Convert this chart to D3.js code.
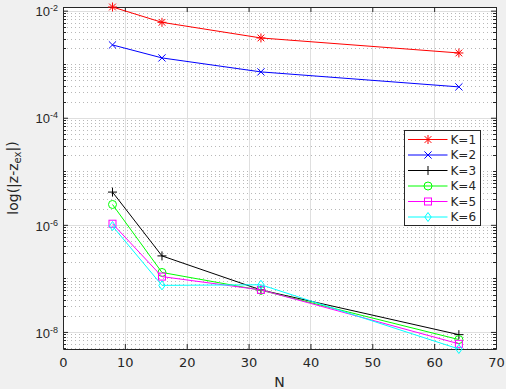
<!DOCTYPE html>
<html lang="en">
<head>
<meta charset="UTF-8">
<title>Error vs N</title>
<script src="https://cdnjs.cloudflare.com/ajax/libs/d3/7.8.5/d3.min.js"></script>
<style>
  body { margin: 0; background: #f0f0f0; }
  svg { display: block; font-family: "DejaVu Sans", sans-serif; }
</style>
</head>
<body>
<div id="chart"></div>
<script>
const N = [8, 16, 32, 64];
const labels = ["K=1", "K=2", "K=3", "K=4", "K=5", "K=6"];
const k1 = [1.17e-2, 6.05e-3, 3.09e-3, 1.62e-3];
const k2 = [2.29e-3, 1.31e-3, 7.18e-4, 3.77e-4];
const k3 = [4.09e-6, 2.63e-7, 6.08e-8, 8.9e-9];
const k4 = [2.4e-6, 1.29e-7, 6.0e-8, 7.2e-9];
const k5 = [1.05e-6, 1.08e-7, 6.1e-8, 6.0e-9];
const k6 = [9.5e-7, 7.4e-8, 7.6e-8, 4.8e-9];
const series = [k1, k2, k3, k4, k5, k6];
const colors = ["#ff0000", "#0000ff", "#000000", "#00ff00", "#ff00ff", "#00ffff"];
const markers = ["star", "x", "plus", "circle", "square", "diamond"];
const xTicks = [0, 10, 20, 30, 40, 50, 60, 70];
const yTicksExp = [-8, -6, -4, -2];

const W = 506, H = 389;
const m = { left: 63, top: 7, right: 10, bottom: 40 };
const pw = W - m.left - m.right, ph = H - m.top - m.bottom;

const svg = d3.select("#chart").append("svg").attr("width", W).attr("height", H);
svg.append("rect").attr("width", W).attr("height", H).attr("fill", "#f0f0f0");
const g = svg.append("g").attr("transform", `translate(${m.left},${m.top})`);

const x = d3.scaleLinear().domain([0, 70]).range([0, pw]);
const allY = series.flat();
const y = d3.scaleLog().domain([d3.min(allY), d3.max(allY)]).range([ph, 0]);

g.append("rect").attr("width", pw).attr("height", ph).attr("fill", "#fff");

// minor y values
const minorY = [];
for (let e = -9; e <= -1; e++) {
  for (let k = 1; k <= 9; k++) {
    const v = k * Math.pow(10, e);
    if (v >= y.domain()[0] && v <= y.domain()[1] && !(k === 1 && e % 2 === 0)) minorY.push(v);
  }
}
const majorY = yTicksExp.map(e => Math.pow(10, e));

// minor grid (dotted)
g.append("g").selectAll("line").data(minorY).join("line")
  .attr("x1", 0).attr("x2", pw)
  .attr("y1", d => Math.round(y(d)) + 0.5).attr("y2", d => Math.round(y(d)) + 0.5)
  .attr("stroke", "#b8b8b8").attr("stroke-dasharray", "1,3");

// major grid
g.append("g").selectAll("line").data(xTicks.slice(1, -1)).join("line")
  .attr("x1", d => Math.round(x(d)) + 0.5).attr("x2", d => Math.round(x(d)) + 0.5)
  .attr("y1", 0).attr("y2", ph).attr("stroke", "#dfdfdf");
g.append("g").selectAll("line").data(majorY).join("line")
  .attr("x1", 0).attr("x2", pw)
  .attr("y1", d => Math.round(y(d)) + 0.5).attr("y2", d => Math.round(y(d)) + 0.5)
  .attr("stroke", "#dfdfdf");

// axes
const axisColor = "#262626";
const xb = g.append("g").attr("transform", `translate(0,${ph})`)
  .call(d3.axisBottom(x).tickValues(xTicks).tickSizeInner(-5).tickSizeOuter(0).tickPadding(9));
const xt = g.append("g")
  .call(d3.axisTop(x).tickValues(xTicks).tickSizeInner(-5).tickSizeOuter(0).tickFormat(""));
const yl = g.append("g")
  .call(d3.axisLeft(y).tickValues(majorY).tickSizeInner(-5).tickSizeOuter(0).tickFormat(""));
const yr = g.append("g").attr("transform", `translate(${pw},0)`)
  .call(d3.axisRight(y).tickValues(majorY).tickSizeInner(-5).tickSizeOuter(0).tickFormat(""));
[xb, xt, yl, yr].forEach(a => {
  a.selectAll("path").attr("stroke", axisColor);
  a.selectAll("line").attr("stroke", axisColor);
  a.selectAll("text").attr("fill", axisColor).attr("font-size", 13).attr("font-family", "DejaVu Sans");
});
yl.selectAll(".tick").append("text")
  .attr("x", -5).attr("dy", "0.4em").attr("text-anchor", "end")
  .attr("fill", axisColor).attr("font-size", 13)
  .each(function(d) {
    const t = d3.select(this);
    t.append("tspan").text("10");
    t.append("tspan").attr("dy", "-0.55em").attr("font-size", 9).text(String(Math.round(Math.log10(d))));
  });
// minor ticks left/right
[0, pw].forEach((xx, i) => {
  g.append("g").selectAll("line").data(minorY).join("line")
    .attr("x1", xx).attr("x2", i === 0 ? xx + 3 : xx - 3)
    .attr("y1", d => Math.round(y(d)) + 0.5).attr("y2", d => Math.round(y(d)) + 0.5)
    .attr("stroke", axisColor);
});

// markers
function drawMarker(sel, type, color) {
  const s = 4.5;
  if (type === "star") {
    sel.append("path").attr("d", `M${-s},0H${s}M0,${-s}V${s}M${-s*0.75},${-s*0.75}L${s*0.75},${s*0.75}M${-s*0.75},${s*0.75}L${s*0.75},${-s*0.75}`)
      .attr("stroke", color).attr("fill", "none");
  } else if (type === "x") {
    const t = s * 0.8;
    sel.append("path").attr("d", `M${-t},${-t}L${t},${t}M${-t},${t}L${t},${-t}`).attr("stroke", color).attr("fill", "none");
  } else if (type === "plus") {
    sel.append("path").attr("d", `M${-s},0H${s}M0,${-s}V${s}`).attr("stroke", color).attr("fill", "none");
  } else if (type === "circle") {
    sel.append("circle").attr("r", 4).attr("stroke", color).attr("fill", "none");
  } else if (type === "square") {
    sel.append("rect").attr("x", -3.5).attr("y", -3.5).attr("width", 7).attr("height", 7).attr("stroke", color).attr("fill", "none");
  } else if (type === "diamond") {
    sel.append("path").attr("d", `M0,${-s}L3.2,0L0,${s}L-3.2,0Z`).attr("stroke", color).attr("fill", "none");
  }
}

const line = d3.line().x((d, i) => x(N[i])).y(d => y(d));
series.forEach((s, k) => {
  g.append("path").datum(s).attr("d", line).attr("fill", "none").attr("stroke", colors[k]).attr("stroke-width", 1);
  g.append("g").selectAll("g").data(s).join("g")
    .attr("transform", (d, i) => `translate(${x(N[i])},${y(d)})`)
    .each(function() { drawMarker(d3.select(this), markers[k], colors[k]); });
});

// axis labels
svg.append("text").attr("x", m.left + x(35)).attr("y", 387).attr("text-anchor", "middle")
  .attr("font-size", 14).attr("fill", axisColor).text("N");
const yLab = svg.append("text").attr("transform", `translate(18,${m.top + ph / 2}) rotate(-90)`)
  .attr("text-anchor", "middle").attr("font-size", 14).attr("fill", axisColor);
yLab.append("tspan").text("log(|z-z");
yLab.append("tspan").attr("font-size", 10).attr("dy", "0.3em").text("ex");
yLab.append("tspan").attr("dy", "-0.3em").text("|)");

// legend
const lg = svg.append("g").attr("transform", "translate(404.5,130.5)");
lg.append("rect").attr("width", 76).attr("height", 95).attr("fill", "#fff").attr("stroke", axisColor);
labels.forEach((lab, k) => {
  const row = lg.append("g").attr("transform", `translate(0,${9 + k * 15.5})`);
  row.append("line").attr("x1", 3.5).attr("x2", 43).attr("stroke", colors[k]);
  const mk = row.append("g").attr("transform", "translate(23.5,0)");
  drawMarker(mk, markers[k], colors[k]);
  row.append("text").attr("x", 46).attr("dy", "0.35em").attr("font-size", 12).attr("fill", axisColor).text(lab);
});
</script>
</body>
</html>
